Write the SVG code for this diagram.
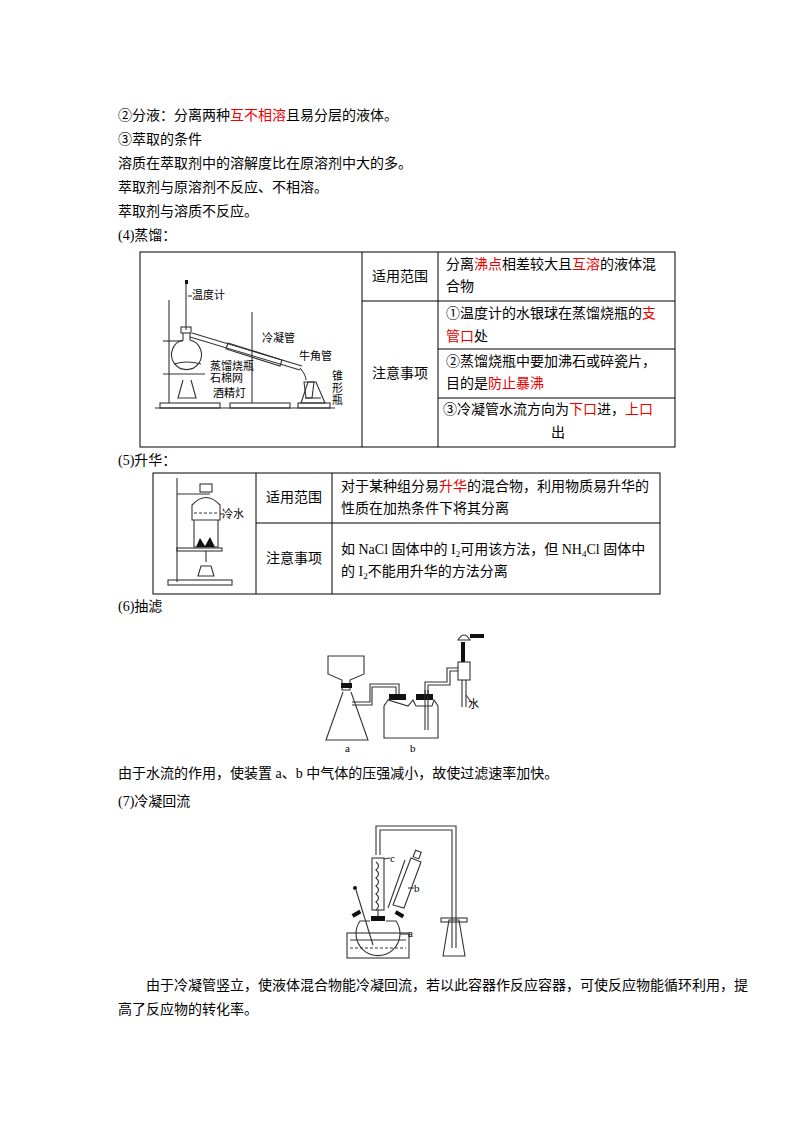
<svg xmlns="http://www.w3.org/2000/svg" width="800" height="1132" viewBox="0 0 800 1132">
<style>
text{font-family:"Liberation Serif","Noto Sans CJK SC",serif;font-size:14px;fill:#000}
.r{fill:#e00}
.s{font-size:11px}
.t{fill:none;stroke:#000;stroke-width:1}
.g{fill:none;stroke:#333;stroke-width:1.1}
.k{fill:#111}
</style>
<rect width="800" height="1132" fill="#fff"/>
<g id="text-top">
<text x="118" y="120">②分液：分离两种<tspan class="r">互不相溶</tspan>且易分层的液体。</text>
<text x="118" y="144">③萃取的条件</text>
<text x="118" y="168">溶质在萃取剂中的溶解度比在原溶剂中大的多。</text>
<text x="118" y="192">萃取剂与原溶剂不反应、不相溶。</text>
<text x="118" y="216">萃取剂与溶质不反应。</text>
<text x="118" y="240">(4)蒸馏：</text>
</g>
<g id="table-distill">
<rect class="t" x="140" y="252" width="535" height="195"/>
<line class="t" x1="362" y1="252" x2="362" y2="447"/>
<line class="t" x1="438" y1="252" x2="438" y2="447"/>
<line class="t" x1="362" y1="301" x2="675" y2="301"/>
<line class="t" x1="438" y1="349" x2="675" y2="349"/>
<line class="t" x1="438" y1="398" x2="675" y2="398"/>
<text x="372" y="281">适用范围</text>
<text x="446" y="269">分离<tspan class="r">沸点</tspan>相差较大且<tspan class="r">互溶</tspan>的液体混</text>
<text x="446" y="291">合物</text>
<text x="372" y="378">注意事项</text>
<text x="446" y="318">①温度计的水银球在蒸馏烧瓶的<tspan class="r">支</tspan></text>
<text x="446" y="341"><tspan class="r">管口</tspan>处</text>
<text x="446" y="366">②蒸馏烧瓶中要加沸石或碎瓷片，</text>
<text x="446" y="388">目的是<tspan class="r">防止暴沸</tspan></text>
<text x="443" y="414">③冷凝管水流方向为<tspan class="r">下口</tspan>进，<tspan class="r">上口</tspan></text>
<text x="551" y="437">出</text>
</g>
<g id="distill-apparatus">
<line class="g" x1="155" y1="408" x2="335" y2="408"/>
<rect class="g" x="160" y="403" width="60" height="5"/>
<rect class="g" x="230" y="403" width="60" height="5"/>
<rect class="g" x="298" y="403" width="32" height="5"/>
<line class="g" x1="169" y1="300" x2="169" y2="403"/>
<line class="g" x1="252" y1="312" x2="252" y2="403"/>
<line class="g" x1="186" y1="282" x2="186" y2="330"/>
<rect class="k" x="185" y="280" width="3" height="4"/>
<text class="s" x="192" y="299">温度计</text>
<line class="g" x1="192" y1="296" x2="188" y2="296"/>
<rect class="g" x="181" y="327" width="10" height="6"/>
<path class="g" d="M183,333 L183,340 A15,15 0 1,0 190,340 L190,333"/>
<path class="g" d="M174,364 Q187,360 201,364"/>
<line class="g" x1="163" y1="341" x2="183" y2="341"/>
<line class="g" x1="163" y1="374" x2="205" y2="374"/>
<path class="g" d="M183,380 L178,398 L196,398 L191,380"/>
<line class="g" x1="190" y1="337" x2="300" y2="370"/>
<line class="g" x1="192" y1="333" x2="302" y2="366"/>
<path class="g" d="M228,343 L282,360 L280,366 L226,349Z"/>
<path class="g" d="M300,368 Q306,375 306,380"/>
<path class="g" d="M306,398 L304,382 L314,382 L312,398Z"/>
<path class="g" d="M301,403 L308,382 L316,382 L325,403Z"/>
<line class="g" x1="305" y1="398" x2="321" y2="398"/>
<text class="s" x="262" y="342">冷凝管</text>
<text class="s" x="299" y="360">牛角管</text>
<text class="s" x="210" y="370">蒸馏烧瓶</text>
<text class="s" x="210" y="382">石棉网</text>
<text class="s" x="213" y="397">酒精灯</text>
<text class="s" x="332" y="380">锥</text>
<text class="s" x="332" y="392">形</text>
<text class="s" x="332" y="404">瓶</text>
</g>
<text x="118" y="465">(5)升华：</text>
<g id="table-sublim">
<rect class="t" x="153" y="473" width="507" height="121"/>
<line class="t" x1="256" y1="473" x2="256" y2="594"/>
<line class="t" x1="332" y1="473" x2="332" y2="594"/>
<line class="t" x1="256" y1="523" x2="660" y2="523"/>
<text x="266" y="502">适用范围</text>
<text x="341" y="491">对于某种组分易<tspan class="r">升华</tspan>的混合物，利用物质易升华的</text>
<text x="341" y="513">性质在加热条件下将其分离</text>
<text x="266" y="563">注意事项</text>
<text x="341" y="554">如 NaCl 固体中的 I<tspan font-size="9" dy="3">2</tspan><tspan dy="-3">可用该方法，但 NH</tspan><tspan font-size="9" dy="3">4</tspan><tspan dy="-3">Cl 固体中</tspan></text>
<text x="341" y="576">的 I<tspan font-size="9" dy="3">2</tspan><tspan dy="-3">不能用升华的方法分离</tspan></text>
</g>
<g id="sublim-apparatus">
<line class="g" x1="177" y1="478" x2="177" y2="582"/>
<rect class="g" x="168" y="580" width="64" height="5"/>
<line class="g" x1="177" y1="494" x2="210" y2="494"/>
<rect class="g" x="200" y="484" width="12" height="8"/>
<path class="g" d="M192,505 Q206,490 220,505 L220,520 L192,520Z"/>
<line class="g" x1="194" y1="513" x2="218" y2="513" stroke-dasharray="3,2"/>
<path class="g" d="M194,520 L194,547 L218,547 L218,520"/>
<line class="g" x1="220" y1="514" x2="224" y2="514"/>
<text class="s" x="222" y="518">冷水</text>
<rect class="g" x="177" y="548" width="45" height="3"/>
<path class="k" d="M196,547 L200,538 L205,546 L210,537 L215,547Z"/>
<line class="g" x1="206" y1="551" x2="206" y2="562"/>
<path class="g" d="M198,576 L201,566 L211,566 L214,576Z"/>
</g>
<text x="118" y="611">(6)抽滤</text>
<g id="filter-apparatus">
<path class="g" d="M328,656 L364,656 L364,674 L350,680 L350,690 L342,690 L342,680 L328,674Z"/>
<rect class="k" x="341" y="683" width="11" height="5"/>
<path class="g" d="M343,692 L326,740 L368,740 L351,692"/>
<path class="g" d="M352,705 L372,705 L372,687 L396,687 L396,694"/>
<path class="g" d="M352,702 L370,702 L370,684 L399,684 L399,694"/>
<path class="g" d="M388,700 L384,706 L384,738 L438,738 L438,706 L434,700 L432,706 L416,706 L413,700 L408,706 Z"/>
<rect class="k" x="389" y="694" width="17" height="6"/>
<rect class="k" x="416" y="694" width="17" height="6"/>
<line class="g" x1="425" y1="690" x2="425" y2="730"/>
<line class="g" x1="428" y1="690" x2="428" y2="730"/>
<path class="g" d="M425,694 L425,682 L447,682 L447,668 L458,668"/>
<path class="g" d="M428,694 L428,685 L450,685 L450,671 L458,671"/>
<rect class="g" x="458" y="662" width="12" height="18"/>
<line class="g" x1="462" y1="680" x2="462" y2="707"/>
<line class="g" x1="466" y1="680" x2="466" y2="707"/>
<rect class="k" x="461" y="642" width="4" height="20"/>
<path class="g" d="M458,640 Q464,630 470,640Z"/>
<rect class="k" x="470" y="634" width="14" height="4"/>
<line class="g" x1="466" y1="695" x2="472" y2="703"/>
<text class="s" x="468" y="708">水</text>
<text class="s" x="345" y="752">a</text>
<text class="s" x="410" y="752">b</text>
</g>
<text x="118" y="778">由于水流的作用，使装置 a、b 中气体的压强减小，故使过滤速率加快。</text>
<text x="118" y="806">(7)冷凝回流</text>
<g id="reflux-apparatus">
<path class="g" d="M376,855 L376,826 L456,826 L456,948"/>
<path class="g" d="M380,855 L380,830 L452,830 L452,948"/>
<path class="g" d="M443,956 L449,920 L459,920 L465,956Z"/>
<rect class="g" x="441" y="918" width="26" height="4"/>
<rect class="g" x="372" y="858" width="12" height="52"/>
<path class="g" d="M376,862 q5,4 0,8 q5,4 0,8 q5,4 0,8 q5,4 0,8 q5,4 0,8 q5,4 0,8"/>
<line class="g" x1="384" y1="859" x2="390" y2="858"/>
<text class="s" x="390" y="862">c</text>
<line class="g" x1="378" y1="910" x2="378" y2="916"/>
<rect class="k" x="371" y="916" width="14" height="5"/>
<path class="g" d="M393,905 L411,858 L421,862 L404,908Z"/>
<line class="g" x1="388" y1="908" x2="405" y2="860"/>
<rect class="g" x="414" y="851" width="6" height="7" transform="rotate(20 417 855)"/>
<text class="s" x="414" y="892">b</text>
<line class="g" x1="408" y1="888" x2="414" y2="888"/>
<rect class="k" x="395" y="912" width="9" height="4" transform="rotate(30 399 914)"/>
<rect class="k" x="352" y="912" width="9" height="4" transform="rotate(-30 356 914)"/>
<path class="g" d="M370,921 L360,921 A22,22 0 1,0 396,921 L386,921"/>
<rect class="g" x="347" y="933" width="62" height="25"/>
<line class="g" x1="350" y1="940" x2="406" y2="940"/>
<line class="g" x1="350" y1="948" x2="406" y2="948" stroke-dasharray="3,2"/>
<line class="g" x1="356" y1="890" x2="373" y2="945"/>
<circle class="k" cx="355" cy="888" r="2"/>
<line class="g" x1="400" y1="934" x2="410" y2="934"/>
<text class="s" x="408" y="937">a</text>
</g>
<text x="146" y="990">由于冷凝管竖立，使液体混合物能冷凝回流，若以此容器作反应容器，可使反应物能循环利用，提</text>
<text x="118" y="1014">高了反应物的转化率。</text>
</svg>
